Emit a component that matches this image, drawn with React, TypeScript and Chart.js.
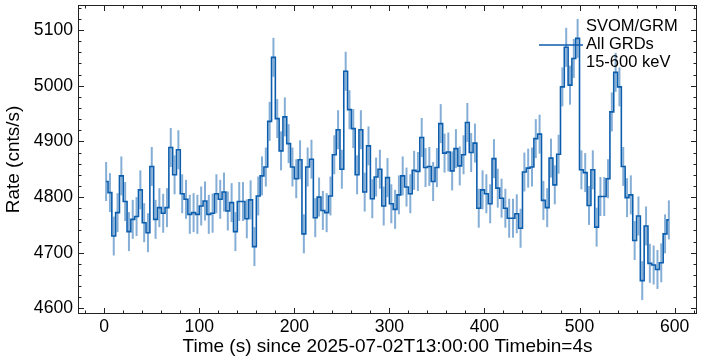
import React, { useEffect, useRef } from "react";
import { Chart, registerables } from "chart.js";

Chart.register(...registerables);

// ---- data ----
const TIMEBIN = 4; // s
const T_FIRST = 2; // centre of first bin (s)
const RATES = [
  4828, 4808, 4730, 4772, 4838, 4792, 4738, 4760, 4765, 4813,
  4754, 4736, 4855, 4760, 4781, 4771, 4781, 4889, 4840, 4885,
  4806, 4796, 4769, 4772, 4769, 4784, 4793, 4769, 4771, 4806,
  4796, 4809, 4775, 4790, 4738, 4792, 4792, 4761, 4795, 4711,
  4802, 4838, 4854, 4936, 5051, 4941, 4883, 4944, 4896, 4854,
  4833, 4867, 4734, 4854, 4868, 4763, 4800, 4776, 4772, 4802,
  4876, 4921, 4850, 5026, 4957, 4923, 4840, 4921, 4809, 4892,
  4797, 4836, 4850, 4784, 4835, 4788, 4778, 4804, 4838, 4818,
  4806, 4848, 4846, 4907, 4853, 4855, 4828, 4853, 4932, 4879,
  4881, 4847, 4887, 4856, 4876, 4934, 4880, 4897, 4780, 4813,
  4806, 4788, 4869, 4816, 4798, 4780, 4762, 4762, 4770, 4744,
  4845, 4852, 4854, 4905, 4913, 4794, 4781, 4870, 4822, 4877,
  4998, 5069, 5001, 5049, 5085, 4849, 4844, 4785, 4849, 4746,
  4801, 4801, 4833, 4953, 5024, 4998, 4855, 4799, 4804, 4722,
  4766, 4650, 4748, 4681, 4678, 4670, 4682, 4734, 4759,
];
const RATE_ERR = 35; // cnts/s, half-length of the error bars
const TIMES = RATES.map((_, i) => T_FIRST + i * TIMEBIN);

const X_TICKS = [0, 100, 200, 300, 400, 500, 600];
const Y_TICKS = [4600, 4700, 4800, 4900, 5000, 5100];
const MINOR_STEP = 20;
const X_MIN = -27.6;
const X_MAX = 623.6;
const Y_MIN = 4590;
const Y_MAX = 5145;

const LEGEND_TEXT = ["SVOM/GRM", "All GRDs", "15-600 keV"];
const X_TITLE = "Time (s) since 2025-07-02T13:00:00 Timebin=4s";
const Y_TITLE = "Rate (cnts/s)";

// ---- style ----
const LINE_COLOR = "#0b5dad";
const ERR_COLOR = "rgba(11, 93, 173, 0.5)";
const AXIS_COLOR = "#222222";
const FONT = "'Liberation Sans', Arial, Helvetica, sans-serif";

const mplStyle = {
  id: "mplStyle",
  beforeDatasetsDraw(chart: any) {
    const { ctx, chartArea: a, scales } = chart;
    const x = scales.x;
    const y = scales.y;
    ctx.save();
    ctx.beginPath();
    ctx.rect(a.left, a.top, a.right - a.left, a.bottom - a.top);
    ctx.clip();
    ctx.strokeStyle = ERR_COLOR;
    ctx.lineWidth = 2;
    RATES.forEach((v, i) => {
      const px = x.getPixelForValue(TIMES[i]);
      ctx.beginPath();
      ctx.moveTo(px, y.getPixelForValue(v - RATE_ERR));
      ctx.lineTo(px, y.getPixelForValue(v + RATE_ERR));
      ctx.stroke();
    });
    ctx.restore();
  },
  afterDraw(chart: any) {
    const { ctx, chartArea: a, scales } = chart;
    const x = scales.x;
    const y = scales.y;
    ctx.save();
    ctx.strokeStyle = AXIS_COLOR;
    ctx.lineWidth = 1;
    // frame
    ctx.strokeRect(a.left + 0.5, a.top + 0.5, a.right - a.left - 1, a.bottom - a.top - 1);

    const major = 6;
    const minor = 3.5;
    ctx.beginPath();
    for (let v = Math.ceil(X_MIN / MINOR_STEP) * MINOR_STEP; v <= X_MAX; v += MINOR_STEP) {
      const len = X_TICKS.includes(v) ? major : minor;
      const px = Math.round(x.getPixelForValue(v)) + 0.5;
      ctx.moveTo(px, a.bottom);
      ctx.lineTo(px, a.bottom - len);
      ctx.moveTo(px, a.top);
      ctx.lineTo(px, a.top + len);
    }
    for (let v = Math.ceil(Y_MIN / MINOR_STEP) * MINOR_STEP; v <= Y_MAX; v += MINOR_STEP) {
      const len = Y_TICKS.includes(v) ? major : minor;
      const py = Math.round(y.getPixelForValue(v)) + 0.5;
      ctx.moveTo(a.left, py);
      ctx.lineTo(a.left + len, py);
      ctx.moveTo(a.right, py);
      ctx.lineTo(a.right - len, py);
    }
    ctx.stroke();

    // legend
    const lx0 = a.right - 158;
    const lx1 = a.right - 114;
    const ly = a.top + 40;
    ctx.strokeStyle = LINE_COLOR;
    ctx.lineWidth = 1.6;
    ctx.beginPath();
    ctx.moveTo(lx0, ly);
    ctx.lineTo(lx1, ly);
    ctx.stroke();
    ctx.fillStyle = "#000000";
    ctx.font = `16.5px ${FONT}`;
    ctx.textAlign = "left";
    ctx.textBaseline = "middle";
    LEGEND_TEXT.forEach((t, i) => {
      ctx.fillText(t, a.right - 111, a.top + 21 + i * 18);
    });
    ctx.restore();
  },
};

export default function App() {
  const ref = useRef<HTMLCanvasElement | null>(null);

  useEffect(() => {
    if (!ref.current) return;
    const chart = new Chart(ref.current, {
      type: "line",
      data: {
        datasets: [
          {
            label: LEGEND_TEXT.join(" "),
            data: TIMES.map((t, i) => ({ x: t, y: RATES[i] })),
            stepped: "middle",
            borderColor: LINE_COLOR,
            borderWidth: 1.6,
            pointRadius: 0,
            fill: false,
          },
        ],
      },
      options: {
        animation: false,
        responsive: false,
        devicePixelRatio: 1,
        layout: { padding: { left: 0, right: 5, top: 5, bottom: 0 } },
        plugins: {
          legend: { display: false },
          tooltip: { enabled: false },
        },
        scales: {
          x: {
            type: "linear",
            min: X_MIN,
            max: X_MAX,
            grid: { display: false, drawTicks: false },
            border: { display: false },
            afterBuildTicks: (s: any) => {
              s.ticks = X_TICKS.map((v) => ({ value: v }));
            },
            afterFit: (s: any) => {
              s.height = 50;
              s.paddingLeft = 0;
              s.paddingRight = 0;
              s.paddingTop = 0;
              s.paddingBottom = 0;
            },
            ticks: {
              color: "#000000",
              padding: 3,
              maxRotation: 0,
              autoSkip: false,
              font: { family: FONT, size: 17.6 },
              callback: (v: any) => String(v),
            },
            title: {
              display: true,
              text: X_TITLE,
              color: "#000000",
              font: { family: FONT, size: 19 },
              padding: { top: 0, bottom: 5.6 },
            },
          },
          y: {
            type: "linear",
            min: Y_MIN,
            max: Y_MAX,
            grid: { display: false, drawTicks: false },
            border: { display: false },
            afterBuildTicks: (s: any) => {
              s.ticks = Y_TICKS.map((v) => ({ value: v }));
            },
            afterFit: (s: any) => {
              s.width = 78;
              s.paddingLeft = 0;
              s.paddingRight = 0;
              s.paddingTop = 0;
              s.paddingBottom = 0;
            },
            ticks: {
              color: "#000000",
              padding: 5,
              autoSkip: false,
              font: { family: FONT, size: 17.6 },
              callback: (v: any) => String(v),
            },
            title: {
              display: true,
              text: Y_TITLE,
              color: "#000000",
              font: { family: FONT, size: 19 },
              padding: { top: 2.6, bottom: 0 },
            },
          },
        },
      },
      plugins: [mplStyle],
    } as any);
    return () => chart.destroy();
  }, []);

  return (
    <div style={{ position: "fixed", left: 0, top: 0, width: 702, height: 364, background: "#ffffff" }}>
      <canvas ref={ref} width={702} height={364} style={{ display: "block" }} />
    </div>
  );
}
